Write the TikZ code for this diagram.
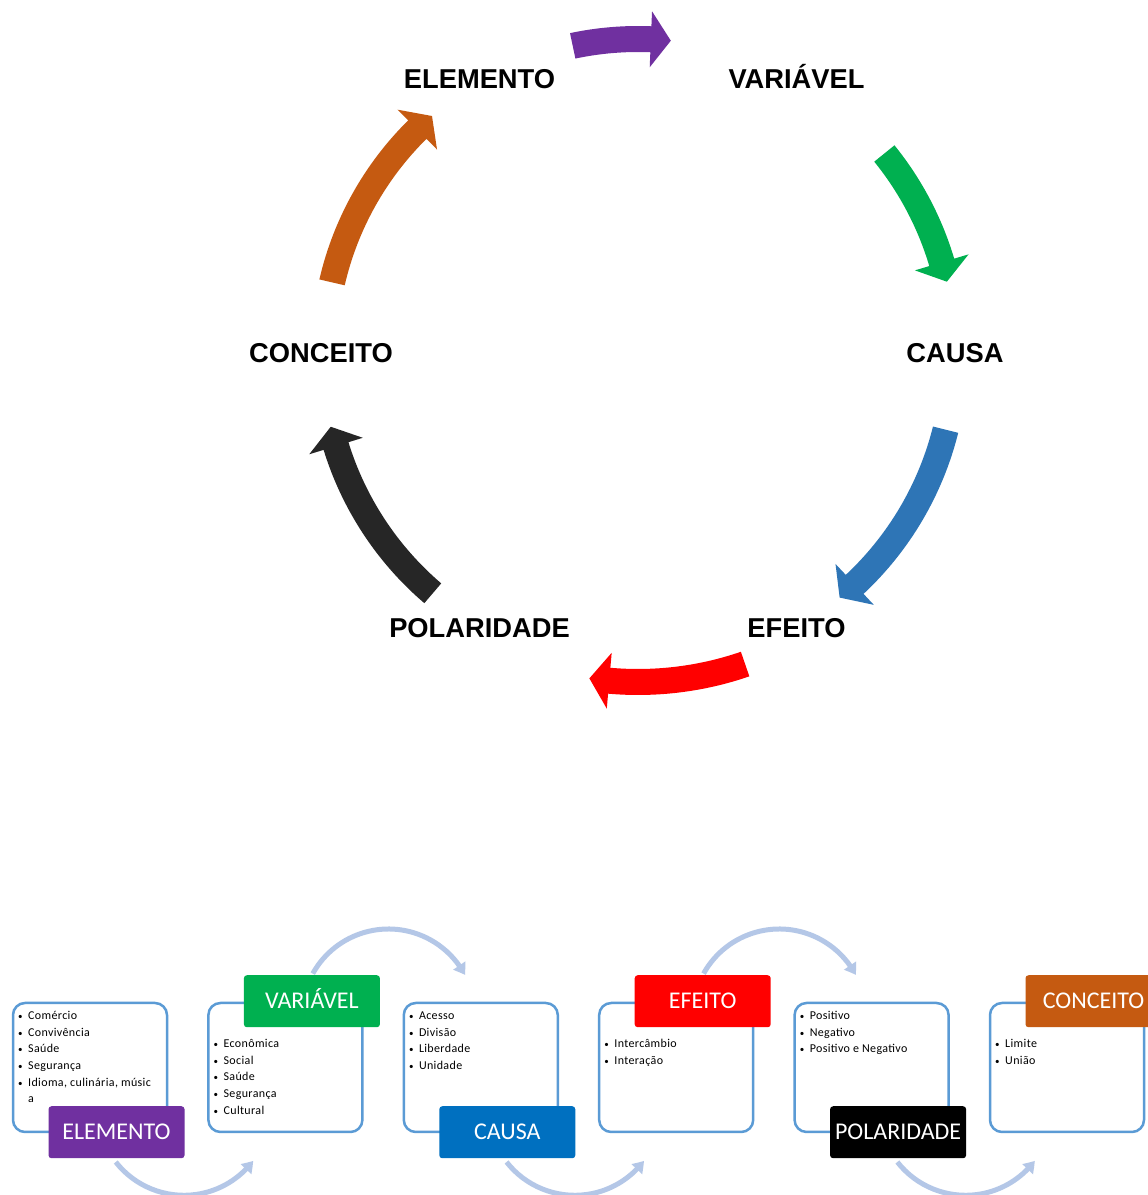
\documentclass[tikz,border=0pt]{standalone}
\usepackage{fontspec}
\newfontfamily\cyclefont{Liberation Sans}
\newfontfamily\flowfont{Carlito}
\newfontfamily\itemfont[LetterSpace=3]{Carlito}
\usetikzlibrary{calc}
\usetikzlibrary{arrows.meta}
\usetikzlibrary{bending}

\definecolor{elempurple}{RGB}{112,48,160}
\definecolor{vargreen}{RGB}{0,176,80}
\definecolor{causeblue}{RGB}{0,112,192}
\definecolor{arrowblue}{RGB}{46,117,182}
\definecolor{effred}{RGB}{255,0,0}
\definecolor{polblack}{RGB}{38,38,38}
\definecolor{concorange}{RGB}{197,90,17}
\definecolor{frameblue}{RGB}{91,155,213}
\definecolor{loopblue}{RGB}{180,199,231}

\newcommand\bul{\makebox[10pt][l]{{\fontsize{9}{9}\selectfont\textbullet}}}

\tikzset{
  cyclelabel/.style={font=\cyclefont\bfseries\fontsize{27.3}{30}\selectfont,
    text height=19.5pt, text depth=0pt, inner sep=0pt},
  listbox/.style={draw=frameblue, line width=2.5pt, fill=white,
    rounded corners=12pt, minimum width=154pt, minimum height=129pt, inner sep=0pt},
  tagbox/.style={rounded corners=3pt, minimum width=136pt, minimum height=52pt,
    inner sep=0pt, text=white, font=\flowfont\fontsize{24}{28}\selectfont,
    text height=15.5pt, text depth=0pt},
  itemline/.style={anchor=base west, inner sep=0pt,
    font=\itemfont\fontsize{12}{14}\selectfont},
  looparrow/.style={draw=loopblue, line width=5pt,
    -{Triangle[width=14pt,length=11pt,bend]}}
}

\begin{document}
\begin{tikzpicture}[x=1pt,y=1pt]
  \path[use as bounding box, fill=white] (0,0) rectangle (1148,1195);

  % cycle
  \coordinate (ctr) at (638,842);
  \foreach \ang/\name/\lbl in {120/elem/ELEMENTO, 60/var/VARIÁVEL, 0/causa/CAUSA,
      -60/efeito/EFEITO, -120/pol/POLARIDADE, 180/conc/CONCEITO}
    \node[cyclelabel] (\name) at ($(ctr)+(\ang:317)$) {\lbl};

  \foreach \col/\a/\b/\r in {elempurple/102/84/314, vargreen/39/13/317,
      arrowblue/-14/-50.5/317, effred/-71/-98.5/329, polblack/-130.5/-166.5/316,
      concorange/167/131/314} {
    \pgfmathsetmacro\h{\b+20/\r*180/pi}
    \pgfmathsetmacro\ro{\r+13}
    \pgfmathsetmacro\ri{\r-13}
    \pgfmathsetmacro\hro{\r+28}
    \pgfmathsetmacro\hri{\r-28}
    \fill[\col] ($(ctr)+(\a:\ro)$) arc[start angle=\a, end angle=\h, radius=\ro]
      -- ($(ctr)+(\h:\hro)$) -- ($(ctr)+(\b:\r)$) -- ($(ctr)+(\h:\hri)$)
      -- ($(ctr)+(\h:\ri)$) arc[start angle=\h, end angle=\a, radius=\ri] -- cycle;
  }

  % flow
  \foreach \k in {0,1} {
    \coordinate (ltop\k) at ($(388.5+390.8*\k,179.4)+(151:86.6)$);
    \draw[looparrow] (ltop\k) arc[start angle=151, end angle=28, radius=86.6];
  }
  \foreach \k in {0,1,2} {
    \coordinate (lbot\k) at ($(184+390.8*\k,86.3)+(218:86.6)$);
    \draw[looparrow] (lbot\k) arc[start angle=218, end angle=323, radius=86.6];
  }

  \foreach \i/\tag/\col/\edge/\dy in {0/ELEMENTO/elempurple/south/1,
      1/VARIÁVEL/vargreen/north/0.5, 2/CAUSA/causeblue/south/1,
      3/EFEITO/effred/north/0.5, 4/POLARIDADE/black/south/1,
      5/CONCEITO/concorange/north/0.5} {
    \node[listbox] (box\i) at (90+195.4*\i,127.5) {};
    \node[tagbox, fill=\col] (tag\i) at ($(box\i.\edge)+(26.5,\dy)$) {\tag};
  }

  \foreach \t [count=\n] in {Comércio, Convivência, Saúde, Segurança, {Idioma, culinária, músic}}
    \node[itemline] (item0-\n) at (18,175.5-16.7*\n+16.7) {\bul\t};
  \node[itemline] (item0-wrap) at (28,175.5-16.7*5) {a};
  \foreach \t [count=\n] in {Econômica, Social, Saúde, Segurança, Cultural}
    \node[itemline] (item1-\n) at (213.4,147.5-16.7*\n+16.7) {\bul\t};
  \foreach \t [count=\n] in {Acesso, Divisão, Liberdade, Unidade}
    \node[itemline] (item2-\n) at (408.8,175.5-16.7*\n+16.7) {\bul\t};
  \foreach \t [count=\n] in {Intercâmbio, Interação}
    \node[itemline] (item3-\n) at (604.2,147.5-16.7*\n+16.7) {\bul\t};
  \foreach \t [count=\n] in {Positivo, Negativo, Positivo e Negativo}
    \node[itemline] (item4-\n) at (799.6,175.5-16.7*\n+16.7) {\bul\t};
  \foreach \t [count=\n] in {Limite, União}
    \node[itemline] (item5-\n) at (995,147.5-16.7*\n+16.7) {\bul\t};
\end{tikzpicture}
\end{document}
